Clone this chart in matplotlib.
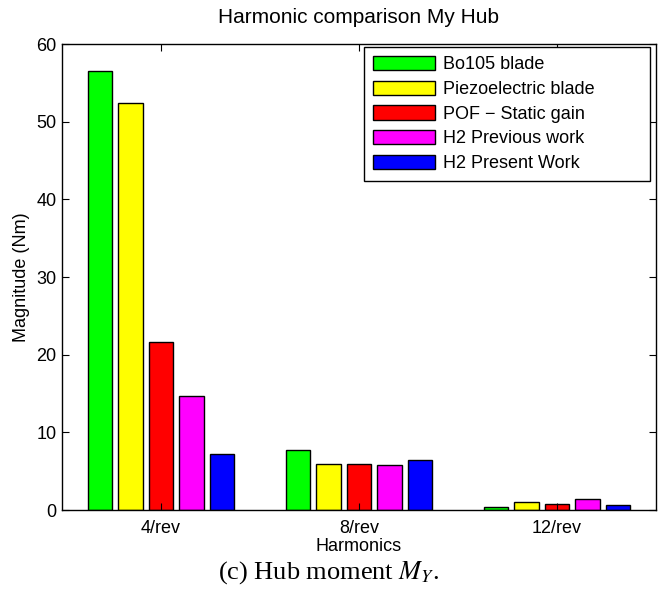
import numpy as np
import matplotlib
matplotlib.use("Agg")
import matplotlib.pyplot as plt

harmonics = ["4/rev", "8/rev", "12/rev"]
series = ["Bo105 blade", "Piezoelectric blade", "POF \u2212 Static gain",
          "H2 Previous work", "H2 Present Work"]
colors = ["#00ff00", "#ffff00", "#ff0000", "#ff00ff", "#0000ff"]

bo105 = [56.5, 7.75, 0.45]
piezo = [52.45, 5.95, 1.05]
pof = [21.65, 5.95, 0.8]
h2_prev = [14.65, 5.8, 1.4]
h2_pres = [7.2, 6.45, 0.62]
values = [bo105, piezo, pof, h2_prev, h2_pres]

plt.rcParams["font.family"] = ["Liberation Sans", "DejaVu Sans"]

fig = plt.figure(figsize=(6.58, 6.03), dpi=100)
ax = fig.add_axes([0.094, 0.154, 0.903, 0.773])

x = np.arange(1, len(harmonics) + 1)
n = len(series)
group_w = min(0.8, n / (n + 1.5))
step = group_w / n
bar_w = 0.8 * step
for i, (name, vals, c) in enumerate(zip(series, values, colors)):
    off = (i - (n - 1) / 2) * step
    ax.bar(x + off, vals, width=bar_w, color=c, edgecolor="black",
           linewidth=1.0, label=name)

ax.set_xlim(0.5, 3.5)
ax.set_ylim(0, 60)
ax.set_xticks(x)
ax.set_xticklabels(harmonics)
ax.set_yticks(np.arange(0, 61, 10))
ax.tick_params(direction="in", length=5, top=True, right=True,
               labelsize=13, width=0.8)
ax.tick_params(axis="x", pad=7)
ax.tick_params(axis="y", pad=4)
for s in ax.spines.values():
    s.set_linewidth(1.0)

ax.set_xlabel("Harmonics", fontsize=13, labelpad=0.5)
ax.set_ylabel("Magnitude (Nm)", fontsize=13, labelpad=4)
ax.set_title("Harmonic comparison My Hub", fontsize=15, pad=15)

# matlab-style legend box: wide frame with empty room on the right
leg = ax.legend(loc="upper left", bbox_to_anchor=(0.509, 0.71, 0.481, 0.284),
                mode="expand", fontsize=13, handlelength=3.4,
                handleheight=0.85, labelspacing=0.4, borderaxespad=0.0,
                fancybox=False, framealpha=1, edgecolor="black",
                borderpad=0.5, handletextpad=0.45)
leg.get_frame().set_linewidth(1.0)

fig.text(0.5, 0.05, r"(c) Hub moment $M_Y$.", ha="center", va="center",
         fontsize=19, family=["Liberation Serif", "DejaVu Serif"],
         math_fontfamily="stix")

fig.savefig("out.png", dpi=100)
